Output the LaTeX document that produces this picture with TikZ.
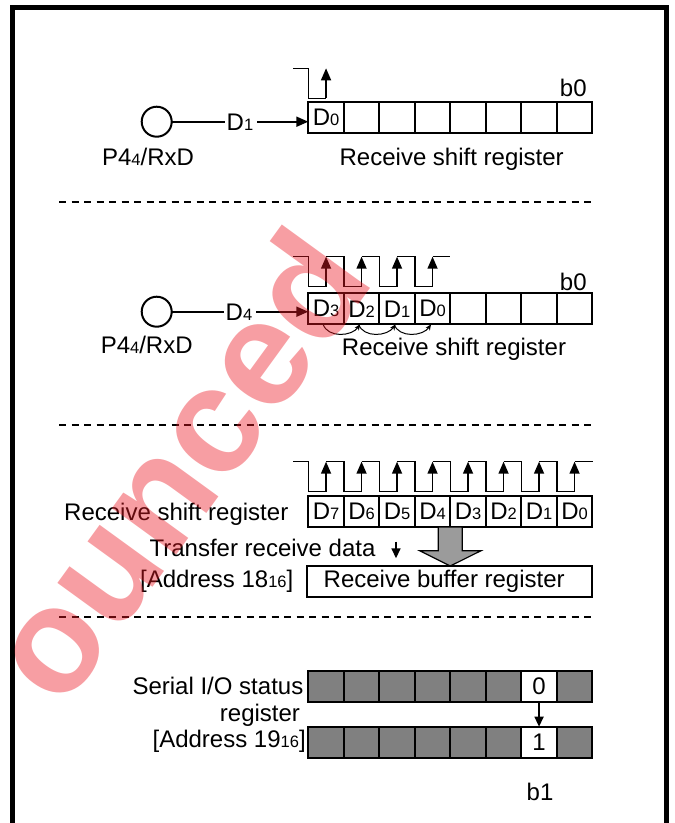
\documentclass[tikz,border=0pt]{standalone}
\usepackage{fontspec}
\setmainfont{Liberation Sans}
\usetikzlibrary{arrows.meta,calc}
\newcommand{\subd}[1]{{\fontsize{16.5}{16.5}\selectfont #1}}
\definecolor{wmred}{RGB}{235,25,35}
\definecolor{arrgray}{RGB}{155,155,155}
\definecolor{cellgray}{RGB}{128,128,128}
\newcommand{\drawclock}[3]{%
  \draw[clk] (293.3,#2) -- (308.3,#2) -- (308.3,#3) -- (326.05,#3);
  \foreach \k in {1,...,#1} {
    \pgfmathsetmacro{\xc}{326.05+35.5*(\k-1)}
    \pgfmathsetmacro{\xb}{308.3+35.5*\k}
    \draw[clkarr] (\xc,#3) -- (\xc,#2);
    \ifnum\k<#1 \draw[clk] (\xc,#2) -- (\xb,#2) -- (\xb,#3) -- ({\xc+35.5},#3);\fi
  }}
\begin{document}
\begin{tikzpicture}[x=1pt,y=-1pt,
  every node/.style={inner sep=0pt, outer sep=0pt},
  txt/.style={font=\fontsize{24}{28}\selectfont, anchor=base},
  cell/.style={draw, line width=2.2pt, minimum width=35.5pt, minimum height=31pt, anchor=north west, font=\fontsize{24}{28}\selectfont},
  gcell/.style={cell, fill=cellgray},
  pin/.style={draw, circle, line width=2pt, minimum size=30pt},
  wire/.style={line width=2pt},
  warr/.style={line width=2pt, -{Triangle[length=12pt,width=10pt]}},
  clk/.style={line width=1.5pt},
  clkarr/.style={line width=1.5pt, -{Triangle[length=12pt,width=10pt]}},
  sharr/.style={line width=1pt, -{Stealth[length=6pt,width=5pt]}},
  sep/.style={line width=2pt, dash pattern=on 7.3pt off 5.2pt},
  darr/.style={line width=1.6pt, -{Triangle[length=10pt,width=9pt]}},
]
\useasboundingbox (0,0) rectangle (675,823);
\begin{scope}
\clip (0,0) rectangle (675,823);
% frame
\draw[line width=5pt, line join=miter] (12,830) -- (12,7.5) -- (666.5,7.5) -- (666.5,830);
% separators
\draw[sep] (59,201.7) -- (593,201.7);
\draw[sep] (59,425) -- (593,425);
\draw[sep] (59,617) -- (593,617);

% ---------- section 1
\node[pin] (c1) at (156.7,121.7) {};
\node[txt] (d1) at (240,130.5) {D\subd{1}};
\foreach \t [count=\i from 0] in {{D\subd{0}},{},{},{},{},{},{},{}}
  \node[cell] (ra\i) at ({308.3+35.5*\i},101.7) {\t};
\draw[wire] (c1.east) -- ([xshift=-2pt]c1.east -| d1.west);
\draw[warr, shorten <=4pt] (c1.east -| d1.east) -- (c1.east -| ra0.west);
\drawclock{1}{68.3}{98.3}
\node[txt] (b0a) at (573.3,96.7) {b0};
\node[txt] (lsa) at (451.7,165) {Receive shift register};
\node[txt] (pa) at (148,165) {P4\subd{4}/RxD};

% ---------- section 2
\node[pin] (c2) at (156.7,311.7) {};
\node[txt] (d4) at (239,320) {D\subd{4}};
\foreach \t [count=\i from 0] in {{D\subd{3}},{D\subd{2}},{D\subd{1}},{D\subd{0}},{},{},{},{}}
  \node[cell] (rb\i) at ({308.3+35.5*\i},293.3) {\t};
\draw[wire] (c2.east) -- ([xshift=-2pt]c2.east -| d4.west);
\draw[warr, shorten <=4pt] (c2.east -| d4.east) -- (c2.east -| rb0.west);
\drawclock{4}{256.7}{286.7}
\draw[clk] (432.55,256.7) -- (rb4.north west |- 0,256.7);
\foreach \i/\j in {0/1,1/2,2/3}
  \draw[sharr] ([xshift=-3pt]rb\i.south) .. controls +(5,14) and +(-8,12) .. ([xshift=-1.5pt]rb\j.south);
\node[txt] (b0b) at (573.3,290) {b0};
\node[txt] (lsb) at (454,355) {Receive shift register};
\node[txt] (pb) at (146.7,353.3) {P4\subd{4}/RxD};

% ---------- section 3
\drawclock{8}{461.7}{491.7}
\draw[clk] (574.55,461.7) -- (593.3,461.7);
\foreach \t [count=\i from 0] in {{D\subd{7}},{D\subd{6}},{D\subd{5}},{D\subd{4}},{D\subd{3}},{D\subd{2}},{D\subd{1}},{D\subd{0}}}
  \node[cell] (rc\i) at ({308.3+35.5*\i},496) {\t};
\node[txt, anchor=base east] (lsc) at (288.3,520) {Receive shift register};
\node[txt] (trd) at (262.5,556.7) {Transfer receive data};
\coordinate (ta1) at (396,541.7);
\coordinate (ta2) at (396,558.3);
\draw[darr] (ta1) -- (ta2);
\node[txt, anchor=base east] (adr1) at (293.3,587.7) {[Address 18\subd{16}]};
\node[draw, line width=2.2pt, minimum width=285pt, minimum height=31pt, anchor=north west, font=\fontsize{24}{28}\selectfont] (buf) at (306.7,566) {\makebox[285pt][l]{\hspace{17pt}Receive buffer register}};
\coordinate (bt) at (rc3.south east);
\draw[line width=1.2pt, fill=arrgray, line join=miter]
  ($(bt)+(-12,0)$) -- ($(bt)+(12,0)$) -- ($(bt)+(12,23.7)$) -- ($(bt)+(30.7,23.7)$)
  -- (bt |- buf.north) -- ($(bt)+(-30.7,23.7)$) -- ($(bt)+(-12,23.7)$) -- cycle;

% ---------- section 4
\foreach \i in {0,...,7} {
  \ifnum\i=6
    \node[cell] (sa\i) at ({308.3+35.5*\i},671.2) {0};
    \node[cell] (sb\i) at ({308.3+35.5*\i},726.7) {1};
  \else
    \node[gcell] (sa\i) at ({308.3+35.5*\i},671.2) {};
    \node[gcell] (sb\i) at ({308.3+35.5*\i},726.7) {};
  \fi
}
\draw[darr] (sa6.south) -- (sb6.north);
\node[txt, anchor=base east] (sl1) at (303.3,694.3) {Serial I/O status};
\node[txt, anchor=base east] (sl2) at (300,721) {register};
\node[txt, anchor=base east] (sl3) at (305.7,747.7) {[Address 19\subd{16}]};
\node[txt] (b1) at (540,800) {b1};

% ---------- watermark
\node[rotate=54, anchor=base east, font=\fontsize{150}{150}\selectfont\bfseries, text=wmred, opacity=0.42] (wm) at (376,280) {ounced};
\end{scope}
\end{tikzpicture}
\end{document}
